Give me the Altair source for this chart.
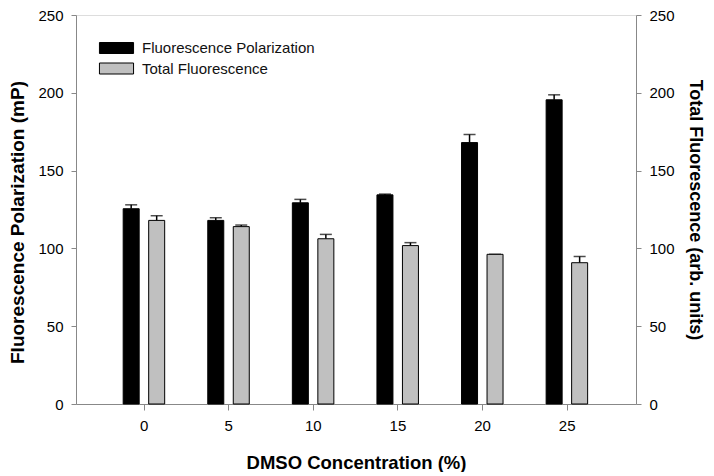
import altair as alt
import pandas as pd

conc = [0, 5, 10, 15, 20, 25]
fp_vals = [125.5, 118, 129.3, 134.4, 168, 195.5]
fp_err = [2.5, 1.7, 2.2, 0.5, 5.2, 3.2]
tf_vals = [118, 114, 106.2, 101.8, 96.2, 90.8]
tf_err = [3, 1, 2.8, 1.9, 0, 4]
series = ["Fluorescence Polarization", "Total Fluorescence"]
x_ticks = [0, 5, 10, 15, 20, 25]
y_ticks = [0, 50, 100, 150, 200, 250]

fp = pd.DataFrame({"conc": conc, "val": fp_vals, "top": [v + e for v, e in zip(fp_vals, fp_err)], "series": series[0]})
tf = pd.DataFrame({"conc": conc, "val": tf_vals, "top": [v + e for v, e in zip(tf_vals, tf_err)], "series": series[1]})

FONT = "Liberation Sans"
xs = alt.Scale(domain=[-4, 29.1], nice=False, zero=False, padding=0)
ys = alt.Scale(domain=[0, 250], nice=False, padding=0)

x_enc = alt.X("conc:Q", scale=xs, title="DMSO Concentration (%)",
              axis=alt.Axis(values=x_ticks, grid=False, tickSize=6, labelPadding=8,
                            titlePadding=20, labelFontSize=15, titleFontSize=18.5))
fill_enc = alt.Fill("series:N", scale=alt.Scale(domain=series, range=["#000000", "#c0c0c0"]),
                    legend=alt.Legend(title=None, orient="none", legendX=29, legendY=21.5,
                                      symbolType="M-1.55,-0.5H1.55V0.5H-1.55Z", symbolSize=484,
                                      symbolStrokeColor="#000000", symbolStrokeWidth=1,
                                      labelFontSize=15, labelOffset=14, rowPadding=0.5,
                                      labelLimit=0, padding=0, labelFont=FONT, labelColor="#111"))


def group(df, off, title, orient, tpad, tsize, ty=None):
    base = alt.Chart(df)
    kw = dict(values=y_ticks, grid=False, orient=orient, tickSize=5, labelPadding=8,
              titlePadding=tpad, labelFontSize=15, titleFontSize=tsize)
    if ty is not None:
        kw["titleY"] = ty
    yaxis = alt.Axis(**kw)
    bars = base.mark_bar(size=16, xOffset=off, stroke="#000000", strokeWidth=1).encode(
        x=x_enc, y=alt.Y("val:Q", scale=ys, title=title, axis=yaxis), fill=fill_enc)
    rule = base.mark_rule(xOffset=off, color="#000000", strokeWidth=1.5).encode(
        x="conc:Q", y=alt.Y("val:Q", scale=ys), y2="top:Q")
    cap = base.mark_tick(orient="horizontal", size=12, thickness=1.5, xOffset=off, color="#000000").encode(
        x="conc:Q", y=alt.Y("top:Q", scale=ys))
    return alt.layer(rule, cap, bars)


left = group(fp, -12.5, "Fluorescence Polarization (mP)", "left", 10, 19, 207)
right = group(tf, 13, "Total Fluorescence (arb. units)", "right", 11, 18)

chart = alt.layer(left, right).resolve_scale(y="independent").properties(
    width=560, height=389,
    autosize=alt.AutoSizeParams(type="none"),
    padding={"left": 68, "top": 7, "right": 70, "bottom": 68},
).configure_view(stroke="#444444", strokeWidth=1).configure_axis(
    domainColor="#444444", tickColor="#444444", labelColor="#222222", titleColor="#000000",
    labelFont=FONT, titleFont=FONT, titleFontWeight="bold", labelFontWeight="normal"
).configure(background="white")

chart.save("out.html", embed_options={"renderer": "svg", "actions": False})
